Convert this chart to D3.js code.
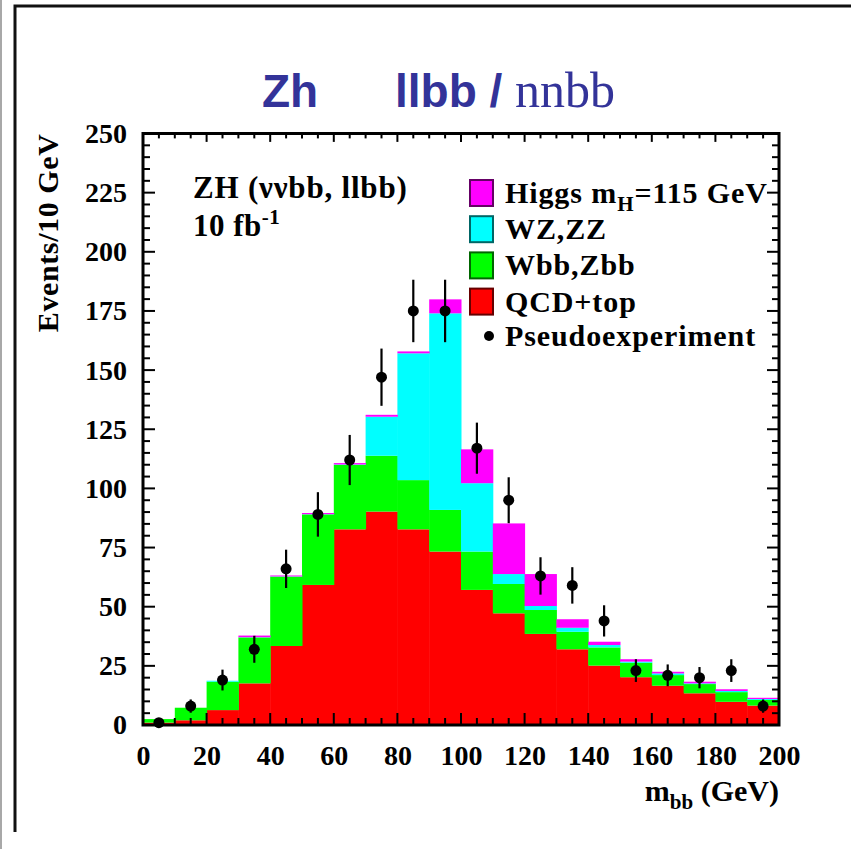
<!DOCTYPE html>
<html>
<head>
<meta charset="utf-8">
<script src="https://cdn.jsdelivr.net/npm/d3@7"></script>
<style>
  html, body { margin: 0; padding: 0; background: #fff; }
  svg { display: block; }
</style>
</head>
<body>
<svg id="chart" width="851" height="849"></svg>
<script>
// ---------- data ----------
const binEdges = [0,10,20,30,40,50,60,70,80,90,100,110,120,130,140,150,160,170,180,190,200];
const seriesNames = ["QCD+top", "Wbb,Zbb", "WZ,ZZ", "Higgs"];
const qcdTop = [1, 2, 6.3, 17.6, 33.4, 59.2, 82.7, 90.2, 82.7, 73.3, 57.1, 47.2, 38.5, 32, 25.1, 20.2, 16.6, 13.4, 9.8, 8.2];
const wbbZbb = [1.5, 5.3, 12.0, 19.4, 29.3, 29.8, 27.2, 23.6, 20.8, 17.6, 16.2, 12.4, 10.1, 7.4, 7.7, 6.1, 4.5, 3.9, 4.1, 2.4];
const wzZz   = [0, 0, 0.4, 0.1, 0.1, 0.1, 0.2, 16.5, 53.6, 83.1, 28.9, 4.2, 1.7, 1.7, 1.0, 0.5, 0.7, 0.3, 0.5, 0.4];
const higgs  = [0, 0, 0, 0.7, 0.4, 0.5, 0.6, 0.8, 0.8, 5.9, 14.3, 21.4, 13.5, 3.6, 1.4, 1.0, 0.7, 0.7, 0.7, 0.5];
const pseudoData = [1, 8, 19, 32, 66, 89, 112, 147, 175, 175, 117, 95, 63, 59, 44, 23, 21, 20, 23, 8];
const pseudoErr  = [1, 2.8, 4.4, 5.7, 8.1, 9.4, 10.6, 12.1, 13.2, 13.2, 10.8, 9.7, 7.9, 7.7, 6.6, 4.8, 4.6, 4.5, 4.8, 2.8];
const yTickLabels = [0, 25, 50, 75, 100, 125, 150, 175, 200, 225, 250];
const xTickLabels = [0, 20, 40, 60, 80, 100, 120, 140, 160, 180, 200];
const seriesColors = ["#ff0000", "#00ff00", "#00ffff", "#ff00ff"];
const legendItems = ["Higgs", "WZ,ZZ", "Wbb,Zbb", "QCD+top"];

// ---------- layout ----------
const svg = d3.select("#chart");
const X0 = 143, X1 = 779, Y0 = 725, Y1 = 133.5;
const x = d3.scaleLinear().domain([0, 200]).range([X0, X1]);
const y = d3.scaleLinear().domain([0, 250]).range([Y0, Y1]);
const serif = "'Liberation Serif', 'Times New Roman', serif";
const sans = "'Liberation Sans', Arial, sans-serif";

// outer frame
svg.append("rect").attr("x", 0).attr("y", 0).attr("width", 2).attr("height", 849).attr("fill", "#a8a8a8");
svg.append("path").attr("d", "M15,832 V6 H851").attr("fill", "none").attr("stroke", "#111").attr("stroke-width", 3);

// title
const titleColor = "#333399";
svg.append("text").attr("x", 262).attr("y", 107).attr("font-family", sans).attr("font-weight", "bold")
  .attr("font-size", 46).attr("fill", titleColor).text("Zh");
svg.append("text").attr("x", 395).attr("y", 107).attr("font-family", sans).attr("font-weight", "bold")
  .attr("font-size", 46).attr("fill", titleColor).text("llbb /");
svg.append("text").attr("x", 515).attr("y", 107).attr("font-family", serif)
  .attr("font-size", 50).attr("fill", titleColor).text("nnbb");

// ---------- stacked histogram ----------
const rows = qcdTop.map((v, i) => ({
  x0: binEdges[i], x1: binEdges[i + 1],
  "QCD+top": qcdTop[i], "Wbb,Zbb": wbbZbb[i], "WZ,ZZ": wzZz[i], "Higgs": higgs[i]
}));
const stack = d3.stack().keys(seriesNames)(rows);
const plot = svg.append("g");
stack.forEach((layer, li) => {
  plot.append("g").attr("fill", seriesColors[li])
    .selectAll("rect").data(layer).join("rect")
    .attr("x", d => x(d.data.x0))
    .attr("width", d => x(d.data.x1) - x(d.data.x0) + 0.5)
    .attr("y", d => y(d[1]))
    .attr("height", d => Math.max(0, y(d[0]) - y(d[1])));
});

// ---------- axes ----------
const axG = svg.append("g").attr("font-family", serif).attr("font-weight", "bold");
const xMinor = d3.range(0, 201, 5);
const yMinor = d3.range(0, 251, 5);
function tickLines(vals, isMajor, fn) {
  vals.forEach(v => fn(v, isMajor(v) ? 12 : 7));
}
tickLines(xMinor, v => v % 20 === 0, (v, len) => {
  axG.append("line").attr("x1", x(v)).attr("x2", x(v)).attr("y1", Y0).attr("y2", Y0 - len).attr("stroke", "#000").attr("stroke-width", 2);
  axG.append("line").attr("x1", x(v)).attr("x2", x(v)).attr("y1", Y1).attr("y2", Y1 + len * 0.7).attr("stroke", "#000").attr("stroke-width", 2);
});
tickLines(yMinor, v => v % 25 === 0, (v, len) => {
  axG.append("line").attr("x1", X0).attr("x2", X0 + len).attr("y1", y(v)).attr("y2", y(v)).attr("stroke", "#000").attr("stroke-width", 2);
  axG.append("line").attr("x1", X1).attr("x2", X1 - len).attr("y1", y(v)).attr("y2", y(v)).attr("stroke", "#000").attr("stroke-width", 2);
});
axG.append("rect").attr("x", X0).attr("y", Y1).attr("width", X1 - X0).attr("height", Y0 - Y1)
  .attr("fill", "none").attr("stroke", "#000").attr("stroke-width", 3);

const xAxis = d3.axisBottom(x).tickValues(xTickLabels).tickSize(0).tickPadding(20).tickFormat(d3.format("d"));
const xg = axG.append("g").attr("transform", `translate(0,${Y0})`).call(xAxis);
xg.select(".domain").remove();
xg.selectAll("text").attr("font-family", serif).attr("font-weight", "bold").attr("font-size", 28).attr("fill", "#000");

const yAxis = d3.axisLeft(y).tickValues(yTickLabels).tickSize(0).tickPadding(16).tickFormat(d3.format("d"));
const yg = axG.append("g").attr("transform", `translate(${X0},0)`).call(yAxis);
yg.select(".domain").remove();
yg.selectAll("text").attr("font-family", serif).attr("font-weight", "bold").attr("font-size", 28).attr("fill", "#000");

// axis titles
axG.append("text").attr("transform", `translate(58,${Y1}) rotate(-90)`).attr("text-anchor", "end")
  .attr("font-size", 30).attr("letter-spacing", 0.6).attr("fill", "#000").text("Events/10 GeV");
const xt = axG.append("text").attr("x", X1).attr("y", 801).attr("text-anchor", "end").attr("font-size", 30).attr("fill", "#000");
xt.append("tspan").text("m");
xt.append("tspan").attr("font-size", 21).attr("dy", 8).text("bb");
xt.append("tspan").attr("dy", -8).text(" (GeV)");

// ---------- pseudo data ----------
const dataG = svg.append("g");
pseudoData.forEach((v, i) => {
  const cx = x((binEdges[i] + binEdges[i + 1]) / 2);
  dataG.append("line").attr("x1", cx).attr("x2", cx).attr("y1", y(v - pseudoErr[i])).attr("y2", y(v + pseudoErr[i]))
    .attr("stroke", "#000").attr("stroke-width", 2.2);
  dataG.append("circle").attr("cx", cx).attr("cy", y(v)).attr("r", 5.5).attr("fill", "#000");
});

// ---------- annotations ----------
const ann = svg.append("g").attr("font-family", serif).attr("font-weight", "bold").attr("fill", "#000");
ann.append("text").attr("x", 193).attr("y", 198).attr("font-size", 31).attr("letter-spacing", 0.8).text("ZH (ννbb, llbb)");
const lumi = ann.append("text").attr("x", 193).attr("y", 236).attr("font-size", 31).attr("letter-spacing", 0.5);
lumi.append("tspan").text("10 fb");
lumi.append("tspan").attr("font-size", 21).attr("dy", -12).text("-1");

// ---------- legend ----------
const leg = svg.append("g").attr("font-family", serif).attr("font-weight", "bold").attr("letter-spacing", 0.9);
const legStroke = ["#660066", "#006666", "#006600", "#660000"];
const legColor = ["#ff00ff", "#00ffff", "#00ff00", "#ff0000"];
legendItems.forEach((name, i) => {
  const cy = 193 + i * 36.2;
  leg.append("rect").attr("x", 470).attr("y", cy - 13).attr("width", 23).attr("height", 26)
    .attr("fill", legColor[i]).attr("stroke", legStroke[i]).attr("stroke-width", 2);
  const t = leg.append("text").attr("x", 505).attr("y", cy + 10).attr("font-size", 30).attr("fill", "#000");
  if (name === "Higgs") {
    t.append("tspan").text("Higgs m");
    t.append("tspan").attr("font-size", 21).attr("dy", 8).text("H");
    t.append("tspan").attr("dy", -8).text("=115 GeV");
  } else {
    t.text(name);
  }
});
leg.append("circle").attr("cx", 489).attr("cy", 336).attr("r", 5).attr("fill", "#000");
leg.append("text").attr("x", 505).attr("y", 346).attr("font-size", 30).attr("fill", "#000").text("Pseudoexperiment");
</script>
</body>
</html>
